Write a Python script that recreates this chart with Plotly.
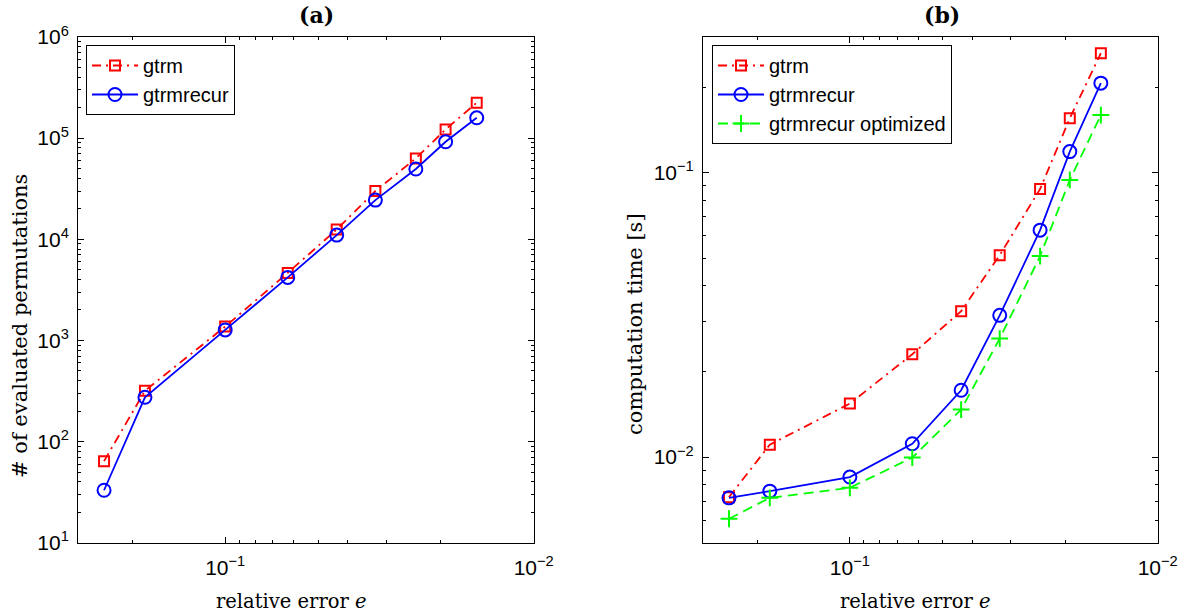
import plotly.graph_objects as go

# relative error e (shared by both panels)
rel_error = [0.247, 0.182, 0.1, 0.0627, 0.0435, 0.0326, 0.0241, 0.0193, 0.0153]

# (a) number of evaluated permutations
perm_gtrm = [64, 318, 1370, 4650, 12500, 30000, 63000, 122000, 224000]
perm_gtrmrecur = [33, 274, 1270, 4200, 11000, 24400, 49500, 92000, 159000]

# (b) computation time in seconds
time_gtrm = [0.00723, 0.01106, 0.01542, 0.0230, 0.0326, 0.0513, 0.0876, 0.1553, 0.263]
time_gtrmrecur = [0.00719, 0.00759, 0.00851, 0.01114, 0.01718, 0.0315, 0.0628, 0.1186, 0.2065]
time_optimized = [0.00607, 0.00719, 0.00780, 0.00996, 0.01469, 0.0261, 0.0509, 0.0943, 0.1595]

W, H = 1192, 615
SANS = "Liberation Sans"
SERIF = "DejaVu Serif"
RED, BLUE, GREEN = "#ff0000", "#0000ff", "#00ff00"


def sup_label(p):
    sign = "\u2212" if p < 0 else ""
    return f"10<sup>{sign}{abs(p)}</sup>"


def minor_vals(lo, hi):
    vals = []
    for d in range(-4, 8):
        for k in range(2, 10):
            v = k * 10.0 ** d
            if lo < v < hi:
                vals.append(v)
    return vals


def px_x(x):
    return x / W


def px_y(y):
    return 1 - y / H


fig = go.Figure()

# panel (a)
fig.add_trace(go.Scatter(
    x=rel_error, y=perm_gtrm, name="gtrm", mode="lines+markers",
    line=dict(color=RED, width=1.8, dash="9px,5px,2px,5px"),
    marker=dict(symbol="square-open", size=10, color=RED, line=dict(width=2, color=RED)),
    xaxis="x", yaxis="y", legend="legend"))
fig.add_trace(go.Scatter(
    x=rel_error, y=perm_gtrmrecur, name="gtrmrecur", mode="lines+markers",
    line=dict(color=BLUE, width=1.8),
    marker=dict(symbol="circle-open", size=13, color=BLUE, line=dict(width=2, color=BLUE)),
    xaxis="x", yaxis="y", legend="legend"))

# panel (b)
fig.add_trace(go.Scatter(
    x=rel_error, y=time_gtrm, name="gtrm", mode="lines+markers",
    line=dict(color=RED, width=1.8, dash="9px,5px,2px,5px"),
    marker=dict(symbol="square-open", size=10, color=RED, line=dict(width=2, color=RED)),
    xaxis="x2", yaxis="y2", legend="legend2"))
fig.add_trace(go.Scatter(
    x=rel_error, y=time_gtrmrecur, name="gtrmrecur", mode="lines+markers",
    line=dict(color=BLUE, width=1.8),
    marker=dict(symbol="circle-open", size=13, color=BLUE, line=dict(width=2, color=BLUE)),
    xaxis="x2", yaxis="y2", legend="legend2"))
fig.add_trace(go.Scatter(
    x=rel_error, y=time_optimized, name="gtrmrecur optimized", mode="lines+markers",
    line=dict(color=GREEN, width=1.8, dash="10px,6px"),
    marker=dict(symbol="cross-thin-open", size=12, color=GREEN, line=dict(width=2, color=GREEN)),
    xaxis="x2", yaxis="y2", legend="legend2"))

x_lo, x_hi = 0.01, 0.3
common = dict(
    type="log", showline=True, linecolor="black", linewidth=1, mirror="ticks",
    ticks="inside", ticklen=6, tickcolor="black", tickwidth=1,
    showgrid=False, zeroline=False, automargin=False,
    tickfont=dict(family=SANS, size=21, color="black"),
)

xaxis_common = dict(
    common,
    range=[-0.52287875, -2],  # reversed: 0.3 on the left, 0.01 on the right
    tickmode="array", tickvals=[0.1, 0.01], ticktext=[sup_label(-1), sup_label(-2)],
    ticklabelstandoff=6,
    minor=dict(tickmode="array", tickvals=minor_vals(x_lo, x_hi), ticks="inside",
               ticklen=3, tickcolor="black", showgrid=False),
)

legend_style = dict(
    xanchor="left", yanchor="top",
    bgcolor="white", bordercolor="black", borderwidth=1,
    font=dict(family=SANS, size=20, color="black"), itemwidth=46,
)

fig.update_layout(
    width=W, height=H,
    margin=dict(l=0, r=0, t=0, b=0),
    paper_bgcolor="white", plot_bgcolor="white",
    xaxis=dict(xaxis_common, domain=[px_x(78), px_x(533.7)], anchor="y"),
    yaxis=dict(
        common, domain=[px_y(542.7), px_y(37)], anchor="x", range=[1, 6],
        tickmode="array", tickvals=[10 ** p for p in range(1, 7)],
        ticktext=[sup_label(p) for p in range(1, 7)], ticklabelstandoff=4,
        minor=dict(tickmode="array", tickvals=minor_vals(10, 1e6), ticks="inside",
                   ticklen=3, tickcolor="black", showgrid=False),
    ),
    xaxis2=dict(xaxis_common, domain=[px_x(703), px_x(1157.7)], anchor="y2"),
    yaxis2=dict(
        common, domain=[px_y(542.7), px_y(37)], anchor="x2",
        range=[-2.30103, -0.52287875],
        tickmode="array", tickvals=[0.1, 0.01], ticktext=[sup_label(-1), sup_label(-2)],
        ticklabelstandoff=4,
        minor=dict(tickmode="array", tickvals=minor_vals(0.005, 0.3), ticks="inside",
                   ticklen=3, tickcolor="black", showgrid=False),
    ),
    legend=dict(legend_style, x=px_x(86), y=px_y(45)),
    legend2=dict(legend_style, x=px_x(712), y=px_y(45)),
)

# panel titles and axis titles
texts = [
    ("<b>(a)</b>", 316.7, 15, 0, 22),
    ("<b>(b)</b>", 942, 15, 0, 22),
    ("relative error <i>e</i>", 291.5, 601, 0, 19.5),
    ("relative error <i>e</i>", 916, 601, 0, 19.5),
    ("# of evaluated permutations", 20, 326, -90, 21),
    ("computation time [s]", 635, 324, -90, 21),
]
for txt, x, y, ang, size in texts:
    fig.add_annotation(
        text=txt, x=px_x(x), y=px_y(y), xref="paper", yref="paper",
        xanchor="center", yanchor="middle", showarrow=False, textangle=ang,
        font=dict(family=SERIF, size=size, color="black"),
    )

fig.write_html("out.html")
